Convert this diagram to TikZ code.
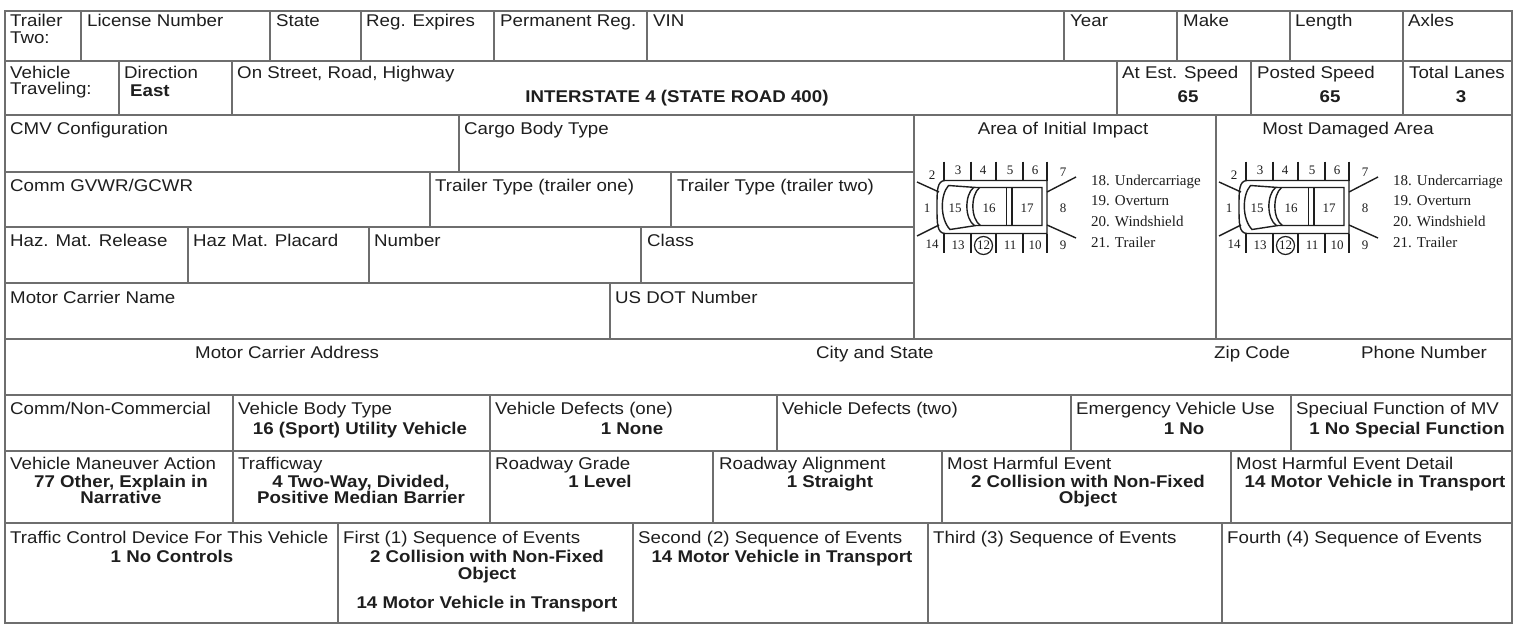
\documentclass[tikz,border=0pt]{standalone}
\usepackage{fontspec}
\setmainfont{Liberation Sans}
\newfontfamily\formfont{Liberation Sans}[FakeStretch=1.1]
\newfontfamily\carfont{Liberation Serif}
\definecolor{ink}{HTML}{1E1E1E}
\definecolor{rulec}{HTML}{6E6E6E}
\newcommand\lblf{\formfont\fontsize{17}{16}\selectfont}
\newcommand\valf{\formfont\bfseries\fontsize{17}{16}\selectfont}
\newcommand\numf{\carfont\fontsize{13}{13}\selectfont}
\newcommand\lstf{\carfont\fontsize{15}{15}\selectfont}
\tikzset{
  rules/.style={draw=rulec, line width=1.5pt},
  lbl/.style={anchor=base west, inner sep=0pt, font=\lblf, text=ink},
  lblc/.style={anchor=base, inner sep=0pt, font=\lblf, text=ink},
  val/.style={anchor=base, inner sep=0pt, font=\valf, text=ink},
  valw/.style={anchor=base west, inner sep=0pt, font=\valf, text=ink},
  carline/.style={draw=ink, line width=1.4pt},
  cnum/.style={inner sep=0pt, font=\numf, text=ink},
  clist/.style={anchor=base west, inner sep=0pt, font=\lstf, text=ink},
}
\newcommand\carpanel[2]{%
\begin{scope}[shift={(#1,0)}]
  \draw[carline] (1047,180.5) -- (945,180.5) .. controls (937,181) and (937,190) .. (937,207)
     .. controls (937,224) and (937,233) .. (945,233.5) -- (1047,233.5) -- cycle;
  \draw[carline] (1042,187.5) -- (976,187.5) -- (948.5,185.5) .. controls (940,195) and (940,219) .. (950,229.5)
     -- (976,225.5) -- (1042,225.5) -- cycle;
  \draw[carline] (973.5,187.5) .. controls (964.5,195) and (964.5,219) .. (974.5,225.5);
  \draw[carline] (979.5,187.5) .. controls (970.5,195) and (970.5,219) .. (980.5,225.5);
  \draw[carline] (1006.5,187.5) -- (1006.5,225.5);
  \draw[carline] (1012,187.5) -- (1012,225.5);
  \foreach \tx in {944,971,996,1023,1047}{
    \draw[carline] (\tx,161.5) -- (\tx,180.5);
    \draw[carline] (\tx,233.5) -- (\tx,252.5);
  }
  \draw[carline] (917,182) -- (939,192);
  \draw[carline] (917,236) -- (939,225);
  \draw[carline] (1047,192) -- (1076,177);
  \draw[carline] (1047,225) -- (1076,238);
  \node[cnum] (#2n1) at (927,208) {1};
  \node[cnum] (#2n2) at (932,175) {2};
  \node[cnum] (#2n3) at (958,170) {3};
  \node[cnum] (#2n4) at (983,170) {4};
  \node[cnum] (#2n5) at (1010,170) {5};
  \node[cnum] (#2n6) at (1035,170) {6};
  \node[cnum] (#2n7) at (1063,172) {7};
  \node[cnum] (#2n8) at (1063,208) {8};
  \node[cnum] (#2n9) at (1063,245) {9};
  \node[cnum] (#2n10) at (1035,245) {10};
  \node[cnum] (#2n11) at (1010,245) {11};
  \node[cnum, circle, draw=ink, line width=1.2pt, minimum size=18pt] (#2n12) at (983.5,245.5) {12};
  \node[cnum] (#2n13) at (958,245) {13};
  \node[cnum] (#2n14) at (932,244) {14};
  \node[cnum] (#2n15) at (955,208) {15};
  \node[cnum] (#2n16) at (989,208) {16};
  \node[cnum] (#2n17) at (1027,208) {17};
  \node[clist] (#2l18) at (1091,185) {18. Undercarriage};
  \node[clist] (#2l19) at (1091,205) {19. Overturn};
  \node[clist] (#2l20) at (1091,226) {20. Windshield};
  \node[clist] (#2l21) at (1091,247) {21. Trailer};
\end{scope}}
\begin{document}
\begin{tikzpicture}[x=1pt,y=-1pt]
\useasboundingbox (0,0) rectangle (1518,629);
\fill[white] (0,0) rectangle (1518,629);
% ---------- rules ----------
\draw[rules] (5,11) rectangle (1512,623);
\draw[rules] (5,61) -- (1512,61);
\draw[rules] (5,115) -- (1512,115);
\draw[rules] (5,172) -- (914,172);
\draw[rules] (5,227) -- (914,227);
\draw[rules] (5,283) -- (914,283);
\draw[rules] (5,339) -- (1512,339);
\draw[rules] (5,395) -- (1512,395);
\draw[rules] (5,451) -- (1512,451);
\draw[rules] (5,523) -- (1512,523);
\foreach \vx in {81,270,361,494,647,1064,1177,1290,1403} \draw[rules] (\vx,11) -- (\vx,61);
\foreach \vx in {119,232,1117,1251,1403} \draw[rules] (\vx,61) -- (\vx,115);
\draw[rules] (459,115) -- (459,172);
\foreach \vx in {430,671} \draw[rules] (\vx,172) -- (\vx,227);
\foreach \vx in {188,369,641} \draw[rules] (\vx,227) -- (\vx,283);
\draw[rules] (610,283) -- (610,339);
\foreach \vx in {914,1216} \draw[rules] (\vx,115) -- (\vx,339);
\foreach \vx in {233,490,777,1071,1291} \draw[rules] (\vx,395) -- (\vx,451);
\foreach \vx in {233,490,713,942,1231} \draw[rules] (\vx,451) -- (\vx,523);
\foreach \vx in {338,633,928,1222} \draw[rules] (\vx,523) -- (\vx,623);
% ---------- row 1 ----------
\node[lbl] (tr1) at (10,27) {Trailer};
\node[lbl] (tr2) at (10,43) {Two:};
\node[lbl] (lic) at (87,27) {License Number};
\node[lbl] (sta) at (276,27) {State};
\node[lbl] (reg) at (366,27) {Reg. Expires};
\node[lbl] (per) at (500,27) {Permanent Reg.};
\node[lbl] (vin) at (653,27) {VIN};
\node[lbl] (yea) at (1070,27) {Year};
\node[lbl] (mak) at (1183,27) {Make};
\node[lbl] (len) at (1295,27) {Length};
\node[lbl] (axl) at (1408,27) {Axles};
% ---------- row 2 ----------
\node[lbl] (veh1) at (10,78) {Vehicle};
\node[lbl] (veh2) at (10,94) {Traveling:};
\node[lbl] (dir) at (124,78) {Direction};
\node[valw] (east) at (130,96) {East};
\node[lbl] (ons) at (237,78) {On Street, Road, Highway};
\node[val] (hwy) at (677,102) {INTERSTATE 4 (STATE ROAD 400)};
\node[lbl] (est) at (1122,78) {At Est. Speed};
\node[val] (estv) at (1188,102) {65};
\node[lbl] (pos) at (1257,78) {Posted Speed};
\node[val] (posv) at (1330,102) {65};
\node[lbl] (tot) at (1409,78) {Total Lanes};
\node[val] (totv) at (1461,102) {3};
% ---------- rows 3-6 ----------
\node[lbl] (cmv) at (10,134) {CMV Configuration};
\node[lbl] (cbt) at (464,134) {Cargo Body Type};
\node[lblc] (aii) at (1063,134) {Area of Initial Impact};
\node[lblc] (mda) at (1348,134) {Most Damaged Area};
\node[lbl] (gvw) at (10,191) {Comm GVWR/GCWR};
\node[lbl] (tt1) at (435,191) {Trailer Type (trailer one)};
\node[lbl] (tt2) at (677,191) {Trailer Type (trailer two)};
\node[lbl] (hzr) at (10,246) {Haz. Mat. Release};
\node[lbl] (hzp) at (193,246) {Haz Mat. Placard};
\node[lbl] (num) at (374,246) {Number};
\node[lbl] (cls) at (647,246) {Class};
\node[lbl] (mcn) at (10,303) {Motor Carrier Name};
\node[lbl] (dot) at (615,303) {US DOT Number};
\carpanel{0}{a}
\carpanel{302}{b}
% ---------- row 7 ----------
\node[lbl] (mca) at (195,358) {Motor Carrier Address};
\node[lbl] (cas) at (816,358) {City and State};
\node[lbl] (zip) at (1214,358) {Zip Code};
\node[lbl] (phn) at (1361,358) {Phone Number};
% ---------- row 8 ----------
\node[lbl] (cnc) at (10,414) {Comm/Non-Commercial};
\node[lbl] (vbt) at (238,414) {Vehicle Body Type};
\node[val] (vbtv) at (360,434) {16 (Sport) Utility Vehicle};
\node[lbl] (vd1) at (495,414) {Vehicle Defects (one)};
\node[val] (vd1v) at (632,434) {1 None};
\node[lbl] (vd2) at (782,414) {Vehicle Defects (two)};
\node[lbl] (evu) at (1076,414) {Emergency Vehicle Use};
\node[val] (evuv) at (1184,434) {1 No};
\node[lbl] (sfm) at (1296,414) {Speciual Function of MV};
\node[val] (sfmv) at (1407,434) {1 No Special Function};
% ---------- row 9 ----------
\node[lbl] (vma) at (10,469) {Vehicle Maneuver Action};
\node[val] (vmav1) at (121,487) {77 Other, Explain in};
\node[val] (vmav2) at (121,503) {Narrative};
\node[lbl] (trw) at (238,469) {Trafficway};
\node[val] (trwv1) at (361,487) {4 Two-Way, Divided,};
\node[val] (trwv2) at (361,503) {Positive Median Barrier};
\node[lbl] (rgr) at (495,469) {Roadway Grade};
\node[val] (rgrv) at (600,487) {1 Level};
\node[lbl] (ral) at (719,469) {Roadway Alignment};
\node[val] (ralv) at (830,487) {1 Straight};
\node[lbl] (mhe) at (947,469) {Most Harmful Event};
\node[val] (mhev1) at (1088,487) {2 Collision with Non-Fixed};
\node[val] (mhev2) at (1088,503) {Object};
\node[lbl] (mhd) at (1236,469) {Most Harmful Event Detail};
\node[val] (mhdv) at (1375,487) {14 Motor Vehicle in Transport};
% ---------- row 10 ----------
\node[lbl] (tcd) at (10,543) {Traffic Control Device For This Vehicle};
\node[val] (tcdv) at (172,562) {1 No Controls};
\node[lbl] (se1) at (343,543) {First (1) Sequence of Events};
\node[val] (se1v1) at (487,562) {2 Collision with Non-Fixed};
\node[val] (se1v2) at (487,579) {Object};
\node[val] (se1v3) at (487,608) {14 Motor Vehicle in Transport};
\node[lbl] (se2) at (638,543) {Second (2) Sequence of Events};
\node[val] (se2v) at (782,562) {14 Motor Vehicle in Transport};
\node[lbl] (se3) at (933,543) {Third (3) Sequence of Events};
\node[lbl] (se4) at (1227,543) {Fourth (4) Sequence of Events};
\end{tikzpicture}
\end{document}
